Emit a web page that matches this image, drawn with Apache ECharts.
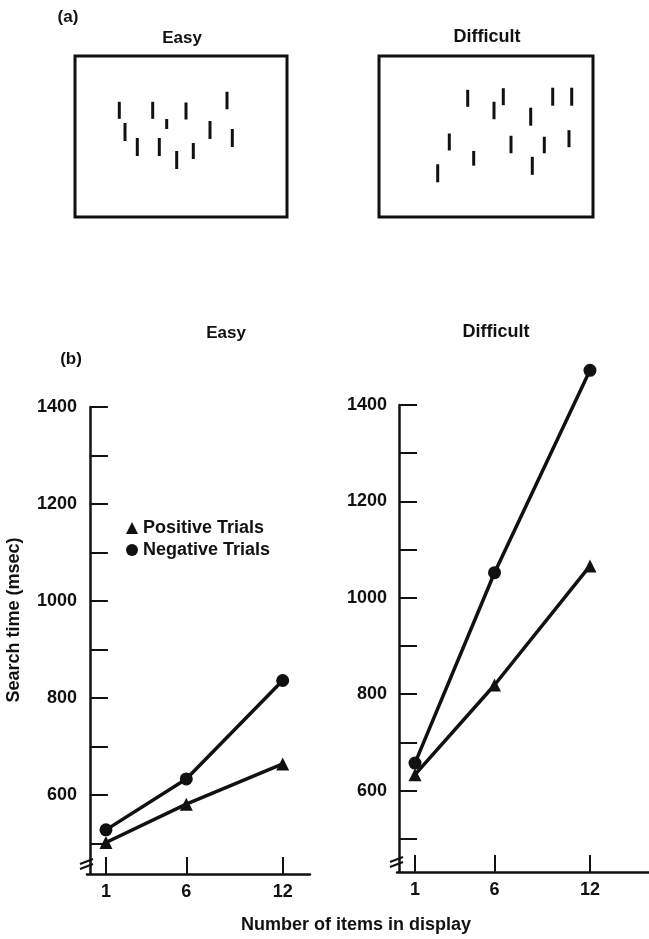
<!DOCTYPE html>
<html>
<head>
<meta charset="utf-8">
<script src="https://cdn.jsdelivr.net/npm/echarts@6/dist/echarts.min.js"></script>
<style>
html,body{margin:0;padding:0;background:#fff;}
#chart{width:649px;height:939px;}
</style>
</head>
<body>
<div id="chart"></div>
<script>
// ---- Panel (a): stimulus displays, mark positions inside each box [x, y, length]
const easyDisplayMarks = [
  [44.3, 54.3, 17], [77.7, 54.3, 17], [111, 55, 17], [152, 44.5, 17.5],
  [50, 76, 18], [91.7, 68, 10], [135, 74, 18], [157.3, 82, 18],
  [62.3, 91, 18], [84.3, 91, 18], [101.7, 104, 18], [118.3, 95, 16]
];
const difficultDisplayMarks = [
  [88.7, 42.3, 17], [124.3, 40.7, 17], [115, 54.5, 17.5], [173.7, 40.7, 18],
  [192.7, 40.7, 18], [151.7, 60.7, 18], [70.3, 86, 17], [132, 88.5, 17.5],
  [165.3, 89, 16.5], [190, 82.7, 17], [94.7, 102.3, 14.7], [153.3, 109.8, 18],
  [58.7, 117.3, 18]
];

// ---- Panel (b): search time data
const displaySizes = [1, 6, 12];
const easyPositive = [502, 581, 664];
const easyNegative = [528, 633, 836];
const difficultPositive = [633, 819, 1066];
const difficultNegative = [657, 1052, 1472];

const yTickValues = [500, 600, 700, 800, 900, 1000, 1100, 1200, 1300, 1400];
const yLabelValues = [600, 800, 1000, 1200, 1400];
const xTickValues = [1, 6, 12];

const FONT = 'Liberation Sans';
const WEIGHT = 'bold';
const INK = '#111';

const pairs = (vals) => displaySizes.map((x, i) => [x, vals[i]]);

function valueXAxis(gridIndex, min, max) {
  return {
    type: 'value', gridIndex, min, max,
    axisLine: { show: true, lineStyle: { color: INK, width: 2.5 } },
    axisTick: { show: true, inside: true, length: 17, customValues: xTickValues, lineStyle: { color: INK, width: 2 } },
    axisLabel: { show: true, customValues: xTickValues, margin: 9, color: INK, fontFamily: FONT, fontWeight: WEIGHT, fontSize: 18, formatter: (v) => String(v) },
    splitLine: { show: false }
  };
}
function valueYAxis(gridIndex, min, max) {
  return {
    type: 'value', gridIndex, min, max,
    axisLine: { show: true, lineStyle: { color: INK, width: 2.5 } },
    axisTick: { show: true, inside: true, length: 18, customValues: yTickValues, lineStyle: { color: INK, width: 2 } },
    axisLabel: { show: true, customValues: yLabelValues, margin: 10, color: INK, fontFamily: FONT, fontWeight: WEIGHT, fontSize: 18, formatter: (v) => String(v) },
    splitLine: { show: false }
  };
}
function lineSeries(name, symbol, size, xi, yi, vals) {
  return {
    type: 'line', name, xAxisIndex: xi, yAxisIndex: yi,
    data: pairs(vals), symbol, symbolSize: size, showSymbol: true,
    clip: false, animation: false,
    itemStyle: { color: INK, opacity: 1 },
    lineStyle: { color: INK, width: 3.5 }
  };
}
function displaySeries(xi, yi, marks) {
  return {
    type: 'scatter', xAxisIndex: xi, yAxisIndex: yi, data: marks,
    symbol: 'rect', symbolSize: (v) => [3, v[2]],
    itemStyle: { color: INK, opacity: 1 }, animation: false, silent: true
  };
}

const chart = echarts.init(document.getElementById('chart'), null, { renderer: 'canvas' });

const option = {
  backgroundColor: '#fff',
  animation: false,
  grid: [
    { left: 75, top: 56, width: 212, height: 161, show: true, borderColor: INK, borderWidth: 3, backgroundColor: 'transparent' },
    { left: 379, top: 56, width: 214, height: 161, show: true, borderColor: INK, borderWidth: 3, backgroundColor: 'transparent' },
    { left: 87, top: 407, width: 223, height: 467 },
    { left: 397, top: 405, width: 252, height: 467 }
  ],
  xAxis: [
    { type: 'value', gridIndex: 0, min: 0, max: 212, show: false },
    { type: 'value', gridIndex: 1, min: 0, max: 214, show: false },
    valueXAxis(2, -0.18, 13.7),
    valueXAxis(3, -0.13, 15.71)
  ],
  yAxis: [
    { type: 'value', gridIndex: 0, min: 0, max: 161, inverse: true, show: false },
    { type: 'value', gridIndex: 1, min: 0, max: 161, inverse: true, show: false },
    valueYAxis(2, 437, 1400),
    valueYAxis(3, 431, 1400)
  ],
  legend: {
    left: 126, top: 519, orient: 'vertical', padding: 0,
    itemWidth: 12, itemHeight: 12, itemGap: 4, selectedMode: false,
    textStyle: { color: INK, fontFamily: FONT, fontWeight: WEIGHT, fontSize: 18, lineHeight: 18 },
    data: [
      { name: 'Positive Trials', icon: 'triangle' },
      { name: 'Negative Trials', icon: 'circle' }
    ]
  },
  series: [
    displaySeries(0, 0, easyDisplayMarks),
    displaySeries(1, 1, difficultDisplayMarks),
    lineSeries('Positive Trials', 'triangle', 13, 2, 2, easyPositive),
    lineSeries('Negative Trials', 'circle', 13, 2, 2, easyNegative),
    lineSeries('Positive Trials', 'triangle', 13, 3, 3, difficultPositive),
    lineSeries('Negative Trials', 'circle', 13, 3, 3, difficultNegative)
  ]
};
chart.setOption(option);

function txt(text, x, y, size, rot) {
  return {
    type: 'text', x, y, rotation: rot || 0, silent: true,
    style: { text, fill: INK, font: WEIGHT + ' ' + size + 'px "' + FONT + '"', textAlign: 'center', textVerticalAlign: 'middle' }
  };
}
function breakMarks(gridIndex, xMin, yMin) {
  const p = chart.convertToPixel({ gridIndex }, [xMin, yMin]);
  const ax = p[0], by = p[1];
  const mk = (dy) => ({
    type: 'line', silent: true,
    shape: { x1: ax - 7, y1: by - dy + 2.5, x2: ax + 6, y2: by - dy - 2.5 },
    style: { stroke: INK, lineWidth: 2 }
  });
  return [mk(12.5), mk(7.5)];
}

const graphics = [
  txt('(a)', 68, 17, 17),
  txt('Easy', 182, 38, 17),
  txt('Difficult', 487, 37, 18),
  txt('(b)', 71, 359, 17),
  txt('Easy', 226, 333, 17),
  txt('Difficult', 496, 332, 18),
  txt('Search time (msec)', 14, 620, 18, Math.PI / 2),
  txt('Number of items in display', 356, 925, 18)
].concat(breakMarks(2, -0.18, 437), breakMarks(3, -0.13, 431));

chart.setOption({ graphic: graphics });
</script>
</body>
</html>
